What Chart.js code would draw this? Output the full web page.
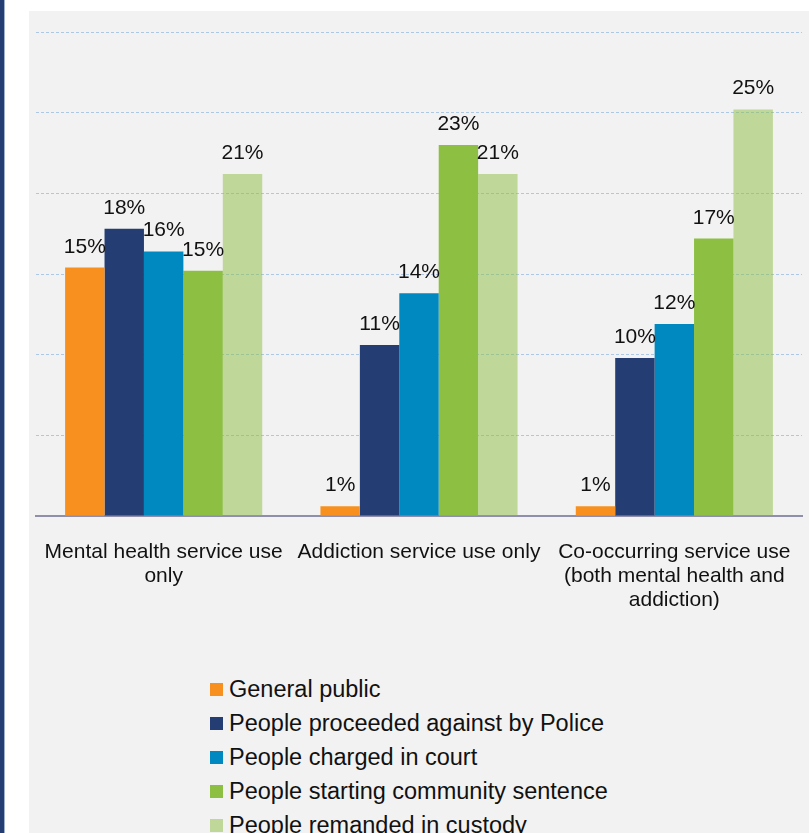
<!DOCTYPE html>
<html>
<head>
<meta charset="utf-8">
<script src="https://cdn.jsdelivr.net/npm/chart.js@4/dist/chart.umd.min.js"></script>
<style>
  body { margin: 0; background: #fff; width: 809px; height: 833px; overflow: hidden; position: relative; font-family: "Liberation Sans", Arial, sans-serif; }
  #strip { position: absolute; left: 0; top: 0; width: 4px; height: 833px; background: #243e73; }
  #strip2 { position: absolute; left: 4px; top: 0; width: 1px; height: 833px; background: #9fb0cf; }
  #panel { position: absolute; left: 29px; top: 11px; width: 780px; height: 822px; background: #f2f2f2; }
  #chart { position: absolute; left: 0; top: 0; }
  #legend { position: absolute; left: 181px; top: 661px; }
  .item { height: 34px; display: flex; align-items: center; font-size: 23.5px; color: #111; white-space: nowrap; }
  .box { width: 13px; height: 13px; margin-right: 6px; }
</style>
</head>
<body>
<div id="strip"></div>
<div id="strip2"></div>
<div id="panel">
  <canvas id="chart" width="780" height="640"></canvas>
  <div id="legend"></div>
</div>
<script>
// Categorías (eje x)
const categories = [
  ['Mental health service use', 'only'],
  ['Addiction service use only'],
  ['Co-occurring service use', '(both mental health and', 'addiction)']
];

// Series
const seriesNames = [
  'General public',
  'People proceeded against by Police',
  'People charged in court',
  'People starting community sentence',
  'People remanded in custody'
];
const generalPublic = [15.4, 0.6, 0.6];
const policeProceeded = [17.8, 10.6, 9.8];
const chargedCourt = [16.4, 13.8, 11.9];
const communitySentence = [15.2, 23.0, 17.2];
const remandedCustody = [21.2, 21.2, 25.2];

const seriesColors = ['#f7901e', '#243e73', '#0088c0', '#8cbf42', 'rgba(140,190,64,0.5)'];
const seriesValues = [generalPublic, policeProceeded, chargedCourt, communitySentence, remandedCustody];

// Etiquetas encima de cada barra
const barLabels = {
  id: 'barLabels',
  afterDatasetsDraw(chart) {
    const c = chart.ctx;
    c.save();
    c.font = '21px "Liberation Sans", Arial, sans-serif';
    c.fillStyle = '#111';
    c.textAlign = 'center';
    c.textBaseline = 'alphabetic';
    chart.data.datasets.forEach((ds, i) => {
      chart.getDatasetMeta(i).data.forEach((bar, j) => {
        c.fillText(Math.round(ds.data[j]) + '%', bar.x, bar.y - 15);
      });
    });
    c.restore();
  }
};

const chart = new Chart(document.getElementById('chart').getContext('2d'), {
  type: 'bar',
  data: {
    labels: categories,
    datasets: seriesNames.map((name, i) => ({
      label: name,
      data: seriesValues[i],
      backgroundColor: seriesColors[i],
      borderWidth: 0,
      categoryPercentage: 0.772,
      barPercentage: 1
    }))
  },
  options: {
    responsive: false,
    devicePixelRatio: 1,
    animation: false,
    layout: { padding: { left: 7, right: 7, top: 21, bottom: 0 } },
    plugins: { legend: { display: false }, tooltip: { enabled: false } },
    scales: {
      x: {
        grid: { display: false, drawTicks: false },
        border: { color: '#8f8fab', width: 2 },
        ticks: {
          color: '#111',
          font: { family: '"Liberation Sans", Arial, sans-serif', size: 21, lineHeight: 1.15 },
          padding: 24,
          maxRotation: 0,
          autoSkip: false
        },
        afterFit: s => {
          s.height = 135;
          s.paddingLeft = 0;
          s.paddingRight = 0;
        }
      },
      y: {
        min: 0,
        max: 30,
        ticks: { display: false, stepSize: 5 },
        border: { display: false },
        grid: { color: '#adc8e6', lineWidth: 1, drawTicks: false },
        afterFit: s => { s.width = 0; }
      }
    }
  },
  plugins: [barLabels]
});

// Gridlines discontinuas
chart.options.scales.y.border.dash = [3, 2];
chart.update();

// Leyenda en HTML
const legend = document.getElementById('legend');
chart.data.datasets.forEach(ds => {
  const item = document.createElement('div');
  item.className = 'item';
  item.innerHTML = `<span class="box" style="background:${ds.backgroundColor}"></span>${ds.label}`;
  legend.appendChild(item);
});
</script>
</body>
</html>
